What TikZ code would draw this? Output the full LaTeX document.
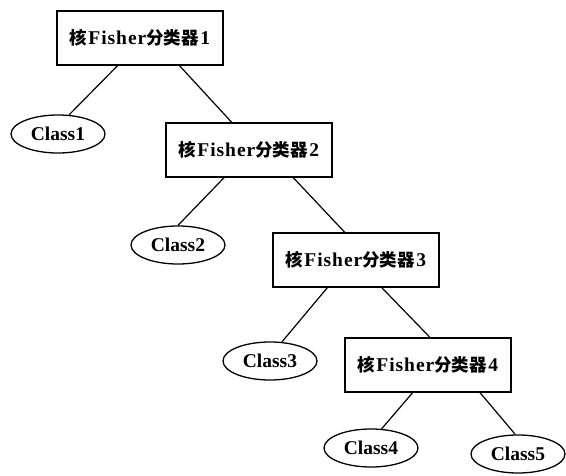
\documentclass[tikz,border=0pt]{standalone}
\usepackage{fontspec}
\setmainfont{Liberation Serif}
\newfontfamily\cjk{Noto Sans CJK SC}
\usetikzlibrary{shapes.geometric}
\newcommand{\kf}[1]{{\cjk\fontsize{17.5}{19}\selectfont 核}\kern1pt{\addfontfeature{LetterSpace=5}Fisher}{\cjk\fontsize{17.5}{19}\selectfont 分类器}\kern1.5pt#1}
\begin{document}
\begin{tikzpicture}[x=1pt,y=-1pt,
  clf/.style={draw,line width=1.3pt,minimum width=166pt,minimum height=54pt,inner sep=0pt,
    font=\bfseries\fontsize{19.5}{21}\selectfont},
  cls/.style={draw,ellipse,line width=1.3pt,minimum width=94pt,minimum height=38pt,inner sep=0pt,
    font=\bfseries\fontsize{19.5}{21}\selectfont},
  edge/.style={line width=1.2pt}]
\useasboundingbox (0,0) rectangle (566,476);
\node[clf] (b1) at (140,38) {\kf{1}};
\node[clf] (b2) at (249,150) {\kf{2}};
\node[clf] (b3) at (356,260) {\kf{3}};
\node[clf] (b4) at (428,365) {\kf{4}};
\node[cls] (c1) at (58,134) {Class1};
\node[cls] (c2) at (178,245) {Class2};
\node[cls] (c3) at (270,361) {Class3};
\node[cls] (c4) at (371,448) {Class4};
\node[cls] (c5) at (518,454) {Class5};
\draw[edge] (b1.231) -- (c1.60);
\draw[edge] (b1.325) -- (b2.122);
\draw[edge] (b2.228) -- (c2.90);
\draw[edge] (b2.328) -- (b3.112);
\draw[edge] (b3.224) -- (c3.58);
\draw[edge] (b3.313) -- (b4.86);
\draw[edge] (b4.241) -- (c4.61);
\draw[edge] (b4.332) -- (c5.98);
\end{tikzpicture}
\end{document}
